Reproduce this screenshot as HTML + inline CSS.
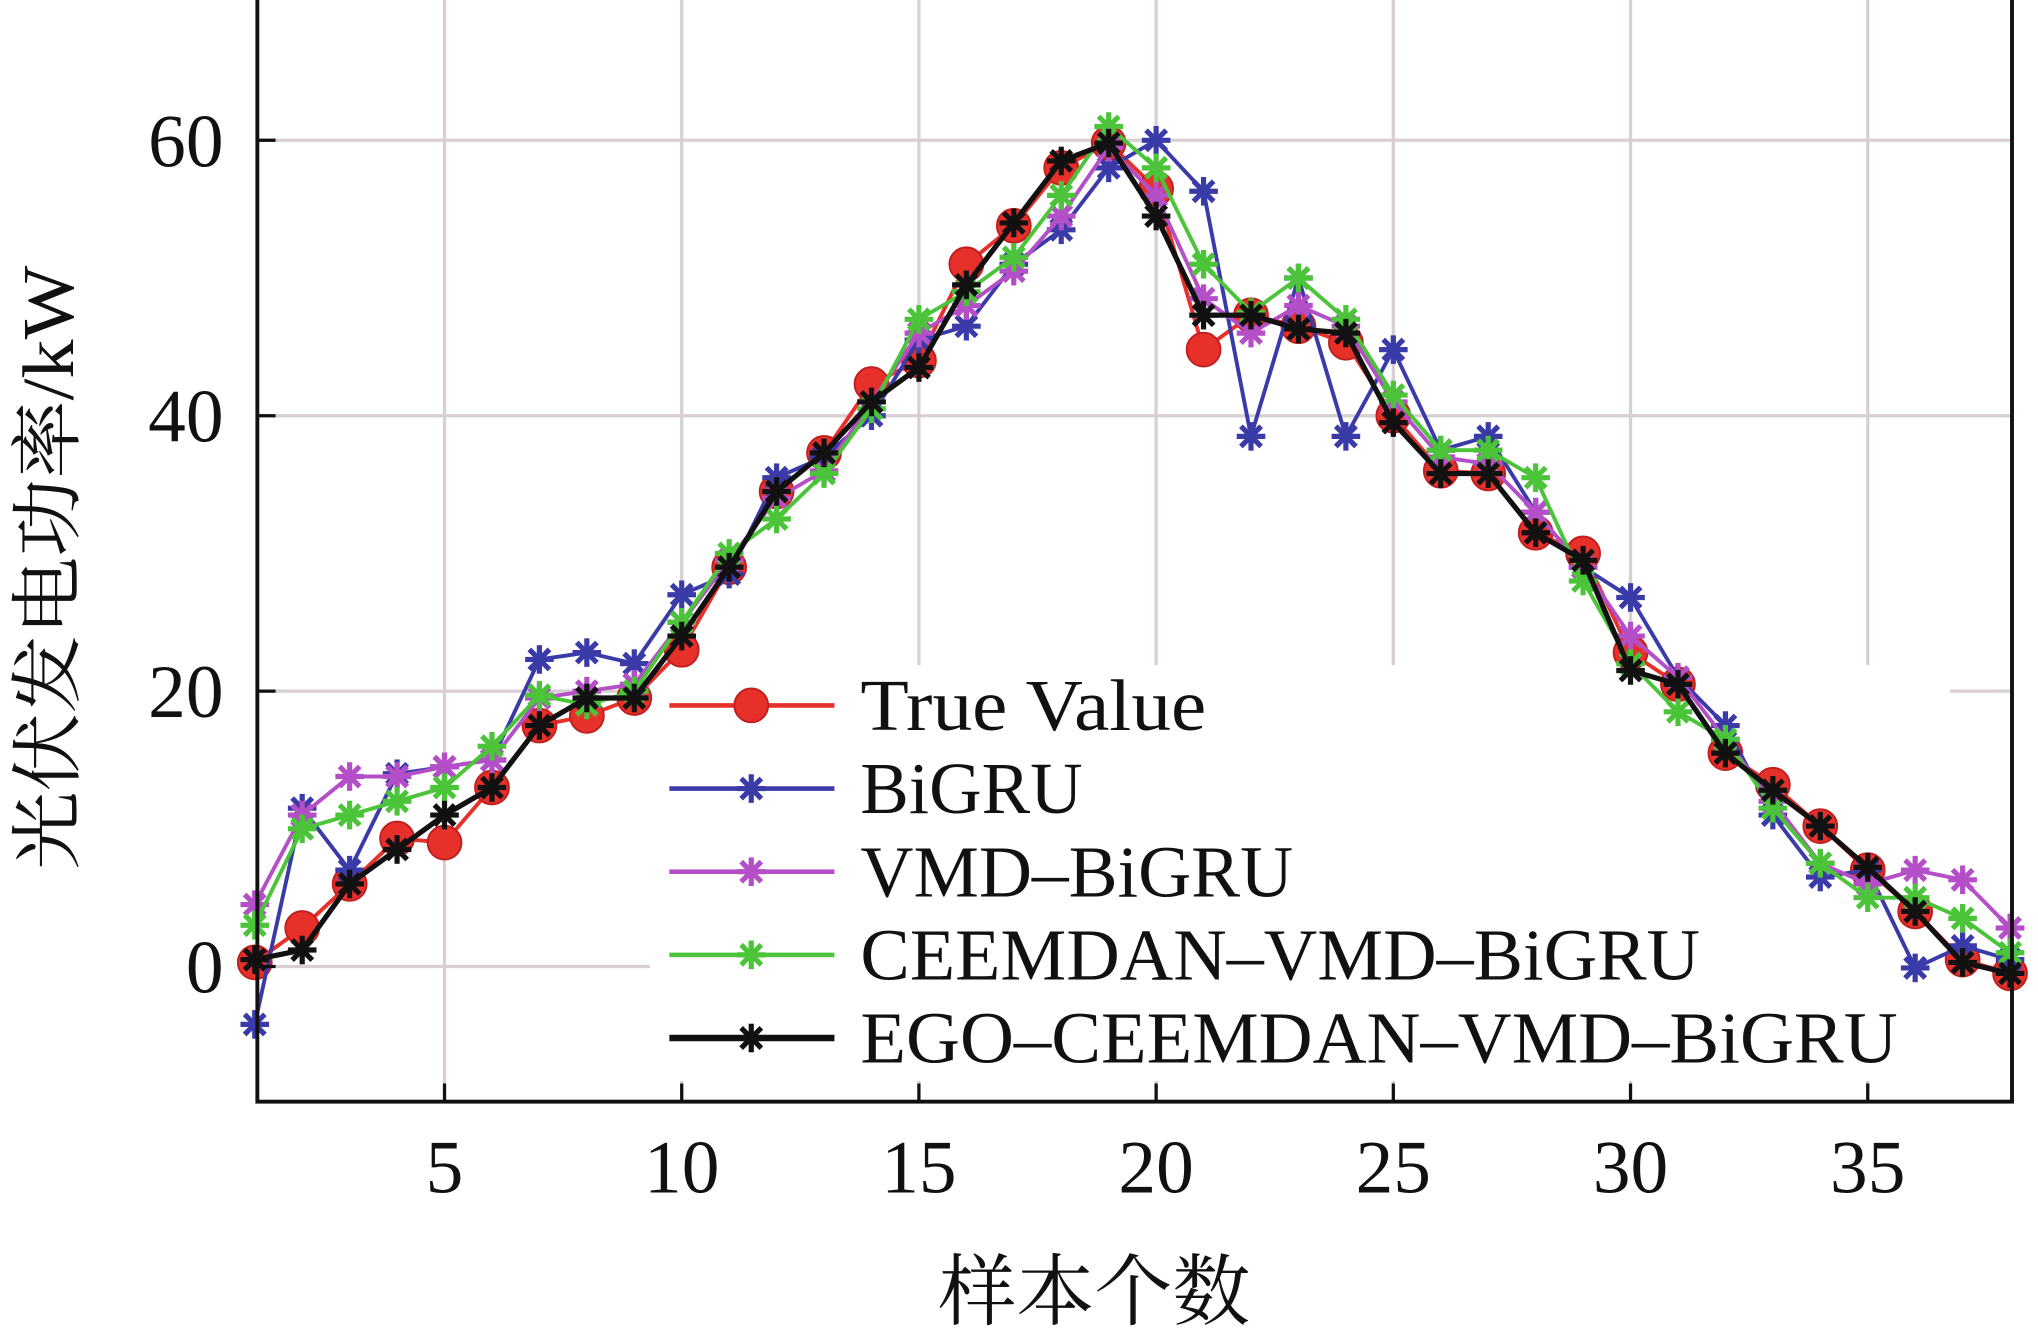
<!DOCTYPE html>
<html><head><meta charset="utf-8">
<style>html,body{margin:0;padding:0;background:#fff;}svg{display:block;}</style>
</head><body>
<svg id="s" width="2038" height="1329" viewBox="0 0 1568 1023" preserveAspectRatio="none" xmlns="http://www.w3.org/2000/svg"></svg>
<script>
const S=document.getElementById('s');
const X=v=>196+(v-1)*36.5, Y=v=>744-v*10.6;
let h='';
h+='<rect x="0" y="0" width="1568" height="1023" fill="#fff"/>';
for(let v=5;v<=35;v+=5){h+=`<line x1="${X(v)}" y1="0" x2="${X(v)}" y2="848" stroke="#d8cfd4" stroke-width="2.5"/>`;}
for(let v=0;v<=60;v+=20){h+=`<line x1="198" y1="${Y(v)}" x2="1548" y2="${Y(v)}" stroke="#d8cfd4" stroke-width="2.5"/>`;}
h+='<rect x="500" y="512" width="1000" height="320" fill="#fff"/>';
const D={
red:[0.3,2.8,6,9.3,9,13,17.5,18.2,19.5,23,29,34.5,37.3,42.3,44,51,53.8,58,59.8,56.5,44.8,47.3,46.5,45.3,40,36,35.8,31.5,30,22.8,20.5,15.5,13.2,10.2,7,4,0.5,-0.5],
blue:[-4.2,11.5,7,14,14.5,15,22.3,22.8,22,27,28.5,35.5,37,40,45.5,46.5,51,53.5,58,60,56.3,38.5,50,38.5,44.8,37.5,38.5,33,29,26.8,21,17.5,11,6.5,7,-0.1,1.5,0.5],
purple:[4.5,11,13.8,13.8,14.5,15,19.5,20,20.5,25,29.5,34,36,41,46,48,50.5,54.5,59.5,56,48.5,46,48,46.5,41,37,36.5,33,29,24,21,16.5,12,7.5,6,7,6.3,2.8],
green:[3,10,11,12,13,16,19.7,19,20,25,30,32.5,35.8,40.5,47,49,51.5,56,61,58,51,47.5,50,47,41.5,37.5,37.5,35.5,28,22,18.5,16.5,11.5,7.5,5,5,3.5,1],
black:[0.5,1.2,6,8.5,11,13,17.5,19.5,19.5,24,29,34.5,37.3,41,43.5,49.5,54,58.5,59.8,54.5,47.3,47.3,46.3,46,39.5,35.8,35.8,31.5,29.5,21.5,20.5,15.5,12.8,10.2,7.2,4,0.3,-0.5]};
const C={red:'#e8302a',blue:'#3a3aa8',purple:'#b44fc8',green:'#4cc43a',black:'#111'};
function star(x,y,c,r){let s='';for(let a=0;a<4;a++){const t=a*Math.PI/4;s+=`<line x1="${x-r*Math.cos(t)}" y1="${y-r*Math.sin(t)}" x2="${x+r*Math.cos(t)}" y2="${y+r*Math.sin(t)}" stroke="${c}" stroke-width="4"/>`;}return s;}
function mark(k,x,y){return k=='red'?`<circle cx="${x}" cy="${y}" r="13" fill="${C.red}" stroke="#c02020" stroke-width="1.5"/>`:star(x,y,C[k],11);}
for(const k of ['red','blue','purple','green','black']){
 const pts=D[k].map((v,i)=>X(i+1)+','+Y(v)).join(' ');
 h+=`<polyline points="${pts}" fill="none" stroke="${C[k]}" stroke-width="${k=='black'?4:3}"/>`;
 D[k].forEach((v,i)=>h+=mark(k,X(i+1),Y(v)));
}
const L=[['red','True Value',266],['blue','BiGRU',171],['purple','VMD\u2013BiGRU',333],['green','CEEMDAN\u2013VMD\u2013BiGRU',646],['black','EGO\u2013CEEMDAN\u2013VMD\u2013BiGRU',798]];
L.forEach((e,i)=>{const y=543+i*64;
 h+=`<line x1="515" y1="${y}" x2="642" y2="${y}" stroke="${C[e[0]]}" stroke-width="${e[0]=='black'?5:3.5}"/>`+mark(e[0],578,y);
 h+=`<text x="662" y="${y+19}" font-family="Liberation Serif,serif" font-size="56" textLength="${e[2]}" lengthAdjust="spacingAndGlyphs" fill="#111">${e[1]}</text>`;});
h+='<rect x="198" y="-2" width="1350" height="850" fill="none" stroke="#111" stroke-width="3"/>';
for(let v=5;v<=35;v+=5){h+=`<line x1="${X(v)}" y1="848" x2="${X(v)}" y2="834" stroke="#111" stroke-width="2.5"/><text x="${X(v)}" y="918" text-anchor="middle" font-family="Liberation Serif,serif" font-size="58" fill="#111">${v}</text>`;}
for(let v=0;v<=60;v+=20){h+=`<line x1="198" y1="${Y(v)}" x2="212" y2="${Y(v)}" stroke="#111" stroke-width="2.5"/><text x="172" y="${Y(v)+20}" text-anchor="end" font-family="Liberation Serif,serif" font-size="58" fill="#111">${v}</text>`;}
h+='<text x="842" y="1015" text-anchor="middle" font-family="Liberation Serif,\'Noto Serif CJK SC\',serif" font-size="60" fill="#111">样本个数</text>';
h+='<text transform="translate(56,437) rotate(-90)" text-anchor="middle" font-family="Liberation Serif,\'Noto Serif CJK SC\',serif" font-size="56" textLength="465" lengthAdjust="spacingAndGlyphs" fill="#111">光伏发电功率/kW</text>';
S.innerHTML=h;
</script>
</body></html>
